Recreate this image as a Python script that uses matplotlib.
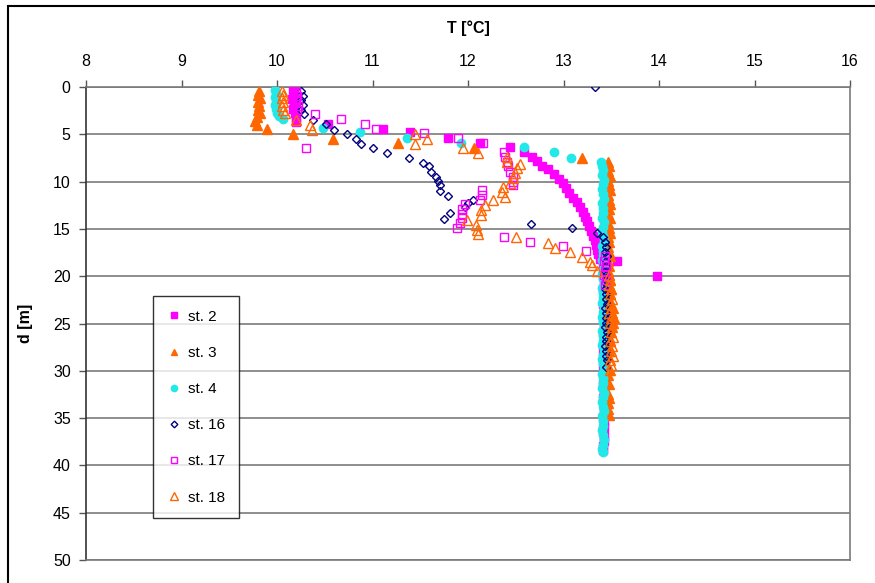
import matplotlib
matplotlib.use("Agg")
import matplotlib.pyplot as plt
from matplotlib.patches import Rectangle

plt.rcParams["font.family"] = ["Liberation Sans", "DejaVu Sans"]

# station profiles: temperature (deg C) against depth (m)
st2_T = [10.17, 10.18, 10.16, 10.18, 10.17, 10.19, 10.20, 10.20,
         10.53, 11.11, 11.39, 11.79, 12.13, 12.44, 12.59,
         12.67, 12.72, 12.78, 12.84, 12.90, 12.95, 12.99, 13.03, 13.06, 13.10,
         13.14, 13.17, 13.20, 13.23, 13.25, 13.27, 13.29, 13.31, 13.33, 13.34,
         13.35, 13.36, 13.38, 13.56, 13.98,
         13.41, 13.42, 13.41, 13.43, 13.42, 13.41, 13.42, 13.43, 13.41, 13.42,
         13.42, 13.41, 13.43, 13.42, 13.41, 13.42, 13.43, 13.42, 13.41, 13.42,
         13.42, 13.41, 13.42, 13.43, 13.42, 13.41, 13.42, 13.42, 13.41, 13.42,
         13.43, 13.42, 13.41, 13.42, 13.42, 13.41, 13.42, 13.42, 13.41, 13.41]
st2_d = [0.3, 0.8, 1.3, 1.8, 2.3, 2.8, 3.3, 3.7,
         3.9, 4.4, 4.8, 5.4, 5.9, 6.3, 6.9,
         7.4, 7.8, 8.3, 8.7, 9.2, 9.7, 10.2, 10.7, 11.2, 11.7,
         12.2, 12.7, 13.2, 13.7, 14.2, 14.7, 15.2, 15.7, 16.2, 16.7,
         17.2, 17.7, 18.2, 18.4, 20.0,
         18.9, 19.4, 19.9, 20.4, 20.9, 21.4, 21.9, 22.4, 22.9, 23.4,
         23.9, 24.4, 24.9, 25.4, 25.9, 26.4, 26.9, 27.4, 27.9, 28.4,
         28.9, 29.4, 29.9, 30.4, 30.9, 31.4, 31.9, 32.4, 32.9, 33.4,
         33.9, 34.4, 34.9, 35.4, 35.9, 36.4, 36.9, 37.4, 37.9, 38.4]

st3_T = [9.81, 9.80, 9.82, 9.80, 9.81, 9.80, 9.82, 9.79, 9.77, 9.79,
         9.90, 10.17, 10.59, 11.27, 12.06, 13.19,
         13.47, 13.48, 13.47, 13.49, 13.47, 13.48, 13.49, 13.47, 13.48, 13.49,
         13.48, 13.47, 13.49, 13.47, 13.48, 13.49, 13.47, 13.48, 13.47, 13.48,
         13.49, 13.47, 13.48, 13.47, 13.48, 13.49, 13.48, 13.50, 13.49, 13.48,
         13.50, 13.52, 13.51, 13.53, 13.52, 13.50, 13.49, 13.48, 13.49, 13.47,
         13.48, 13.47, 13.48, 13.47, 13.48, 13.47, 13.48, 13.47, 13.47, 13.48]
st3_d = [0.4, 0.8, 1.2, 1.6, 2.0, 2.4, 2.8, 3.2, 3.6, 4.0,
         4.4, 5.0, 5.5, 5.9, 6.5, 7.5,
         7.9, 8.4, 8.9, 9.4, 9.9, 10.4, 10.9, 11.4, 11.9, 12.4,
         12.9, 13.4, 13.9, 14.4, 14.9, 15.4, 15.9, 16.4, 16.9, 17.4,
         17.9, 18.4, 18.9, 19.4, 19.9, 20.4, 20.9, 21.4, 21.9, 22.4,
         22.9, 23.4, 23.9, 24.4, 24.9, 25.4, 25.9, 26.4, 26.9, 27.4,
         27.9, 28.4, 29.9, 30.4, 31.4, 32.4, 32.9, 33.4, 34.0, 34.7]

st4_T = [9.98, 9.99, 9.98, 9.99, 9.98, 9.99, 10.00, 10.02, 10.06,
         10.48, 10.87, 11.36, 11.93, 12.59, 12.90, 13.08, 13.39,
         13.40, 13.41, 13.40, 13.42, 13.41, 13.40, 13.41, 13.42, 13.40, 13.41,
         13.41, 13.40, 13.42, 13.41, 13.40, 13.41, 13.42, 13.40, 13.41, 13.41,
         13.40, 13.42, 13.41, 13.40, 13.41, 13.42, 13.40, 13.41, 13.41, 13.40,
         13.42, 13.41, 13.40, 13.41, 13.42, 13.40, 13.41, 13.41, 13.40, 13.42,
         13.41, 13.40, 13.41, 13.42, 13.40, 13.41, 13.41, 13.40, 13.42, 13.41,
         13.40, 13.41, 13.42, 13.40, 13.41, 13.41, 13.40, 13.41, 13.42, 13.41,
         13.40, 13.41]
st4_d = [0.3, 0.7, 1.1, 1.5, 1.9, 2.3, 2.7, 3.1, 3.4,
         4.3, 4.8, 5.4, 5.9, 6.3, 6.9, 7.5, 7.9,
         8.3, 8.8, 9.3, 9.8, 10.3, 10.8, 11.3, 11.8, 12.3, 12.8,
         13.3, 13.8, 14.3, 14.8, 15.3, 15.8, 16.3, 16.8, 17.3, 17.8,
         18.3, 18.8, 19.3, 19.8, 20.3, 20.8, 21.3, 21.8, 22.3, 22.8,
         23.3, 23.8, 24.3, 24.8, 25.3, 25.8, 26.3, 26.8, 27.3, 27.8,
         28.3, 28.8, 29.3, 29.8, 30.3, 30.8, 31.3, 31.8, 32.3, 32.8,
         33.3, 33.8, 34.3, 34.8, 35.3, 35.8, 36.3, 36.8, 37.3, 37.8,
         38.3, 38.6]

st16_T = [13.33, 10.25, 10.27, 10.25, 10.27, 10.25, 10.28, 10.38, 10.51, 10.60,
          10.73, 10.83, 10.88, 11.00, 11.15, 11.38, 11.53, 11.59, 11.61, 11.66,
          11.69, 11.71, 11.71, 11.79, 12.05, 12.00, 11.97, 11.81, 11.75, 12.66,
          13.09, 13.35, 13.41,
          13.43, 13.45, 13.43, 13.46, 13.44, 13.45, 13.43, 13.45, 13.44, 13.46,
          13.43, 13.45, 13.44, 13.46, 13.43, 13.45, 13.44, 13.45, 13.43, 13.46,
          13.44, 13.45, 13.43, 13.45, 13.44, 13.46, 13.44]
st16_d = [0.0, 0.4, 0.9, 1.4, 1.9, 2.4, 2.9, 3.5, 3.9, 4.5,
          5.0, 5.5, 6.0, 6.5, 7.0, 7.5, 8.0, 8.4, 9.0, 9.5,
          9.9, 10.4, 11.0, 11.5, 11.9, 12.3, 12.7, 13.3, 14.0, 14.5,
          14.9, 15.4, 15.9,
          16.4, 16.9, 17.4, 17.9, 18.4, 18.9, 19.4, 19.9, 20.4, 20.9,
          21.4, 21.9, 22.4, 22.9, 23.4, 23.9, 24.4, 24.9, 25.4, 25.9,
          26.4, 26.9, 27.4, 27.9, 28.4, 28.9, 29.6]

st17_T = [10.18, 10.20, 10.21, 10.20, 10.22, 10.21, 10.40, 10.67, 10.92, 11.04,
          11.54, 11.90, 12.16, 10.30, 12.38, 12.39, 12.41, 12.42, 12.44, 12.47,
          12.47, 12.47, 12.15, 12.15, 12.13, 11.97, 11.94, 11.94, 11.94, 11.92,
          11.88, 12.38, 12.65, 12.99, 13.24,
          13.43, 13.42, 13.44, 13.43, 13.42, 13.44, 13.43]
st17_d = [0.0, 0.5, 1.0, 1.5, 2.0, 2.4, 2.9, 3.4, 3.9, 4.4,
          4.9, 5.4, 5.9, 6.4, 6.9, 7.4, 7.9, 8.4, 9.0, 9.5,
          10.0, 10.4, 10.9, 11.4, 11.9, 12.4, 12.9, 13.4, 13.9, 14.4,
          14.9, 15.9, 16.4, 16.8, 17.3,
          17.9, 18.4, 18.9, 19.4, 19.9, 20.4, 20.9]

st18_T = [10.05, 10.06, 10.05, 10.06, 10.05, 10.06, 10.08, 10.20, 10.35, 10.37,
          11.44, 11.57, 11.44, 11.95, 12.10, 12.41, 12.41, 12.54, 12.51, 12.49,
          12.47, 12.44, 12.37, 12.36, 12.39, 12.26, 12.18, 12.14, 12.14, 11.99,
          12.08, 12.09, 12.10, 12.50, 12.84, 12.91, 13.07, 13.19, 13.28, 13.30,
          13.35,
          13.48, 13.49, 13.48, 13.50, 13.49, 13.51, 13.49, 13.50, 13.48, 13.50,
          13.49, 13.51, 13.50, 13.52, 13.49, 13.51, 13.50, 13.52, 13.49, 13.50,
          13.49]
st18_d = [0.4, 0.8, 1.2, 1.6, 2.0, 2.4, 2.8, 3.5, 4.0, 4.5,
          5.0, 5.5, 6.0, 6.5, 7.0, 7.4, 7.9, 8.1, 8.6, 9.1,
          9.6, 10.1, 10.6, 11.1, 11.6, 11.9, 12.5, 13.0, 13.5, 14.1,
          14.6, 15.1, 15.5, 15.9, 16.5, 17.0, 17.4, 18.0, 18.5, 18.8,
          19.4,
          19.9, 20.4, 20.9, 21.4, 21.9, 22.4, 22.9, 23.4, 23.9, 24.4,
          24.9, 25.4, 25.9, 26.4, 26.9, 27.4, 27.9, 28.4, 28.9, 29.4,
          29.9]

labels = ["st. 2", "st. 3", "st. 4", "st. 16", "st. 17", "st. 18"]
x_ticks = [8, 9, 10, 11, 12, 13, 14, 15, 16]
y_ticks = [0, 5, 10, 15, 20, 25, 30, 35, 40, 45, 50]

MAGENTA = "#ff00ff"
ORANGE = "#ff6600"
CYAN = "#22e8e8"
NAVY = "#000080"

series = [
    (st2_T, st2_d, dict(marker="s", ms=5.5, mfc=MAGENTA, mec=MAGENTA)),
    (st3_T, st3_d, dict(marker="^", ms=6.5, mfc=ORANGE, mec=ORANGE)),
    (st4_T, st4_d, dict(marker="o", ms=6, mfc=CYAN, mec=CYAN)),
    (st16_T, st16_d, dict(marker="D", ms=4.5, mfc="none", mec=NAVY, mew=1.0)),
    (st17_T, st17_d, dict(marker="s", ms=6, mfc="none", mec=MAGENTA, mew=1.0)),
    (st18_T, st18_d, dict(marker="^", ms=7, mfc="none", mec=ORANGE, mew=1.0)),
]

fig = plt.figure(figsize=(8.75, 5.83), dpi=100)
ax = fig.add_axes([86 / 875, 1 - 560 / 583, (850 - 86) / 875, (560 - 87) / 583])

for ax_y in y_ticks:
    ax.axhline(ax_y, color="#7a7a7a", lw=1.2, zorder=1)

handles = []
for (t, d, style), lab in zip(series, labels):
    h, = ax.plot(t, d, ls="none", label=lab, zorder=3, **style)
    handles.append(h)

ax.set_xlim(8, 16)
ax.set_ylim(50, 0)
ax.set_xticks(x_ticks)
ax.set_yticks(y_ticks)
ax.xaxis.tick_top()
ax.xaxis.set_label_position("top")
ax.tick_params(axis="both", labelsize=11.5, length=5, width=1, color="#555555",
               direction="out", pad=6)
ax.tick_params(axis="x", pad=8)
ax.set_xlabel("T [°C]", fontsize=11.5, fontweight="bold", labelpad=15)
ax.set_ylabel("d [m]", fontsize=11.5, fontweight="bold", labelpad=14)

for side in ["top", "bottom", "right"]:
    ax.spines[side].set_color("#7a7a7a")
    ax.spines[side].set_linewidth(1.2)
ax.spines["left"].set_color("#333333")
ax.spines["left"].set_linewidth(1.2)

leg = fig.legend(handles=handles, loc="upper left",
                 bbox_to_anchor=(153 / 875, 1 - 296 / 583), fontsize=11,
                 frameon=True, fancybox=False, edgecolor="black",
                 labelspacing=1.45, handlelength=1.0, handletextpad=0.4,
                 borderpad=0.9, borderaxespad=0, markerscale=0.75)
leg.get_frame().set_linewidth(1.0)

# outer chart frame, running off the right and bottom edges
fig.patches.append(Rectangle((8 / 875, -0.05), 1.0, 1.05 - 6 / 583,
                             transform=fig.transFigure, fill=False,
                             edgecolor="black", lw=1.5))

fig.savefig("out.png", dpi=100)
